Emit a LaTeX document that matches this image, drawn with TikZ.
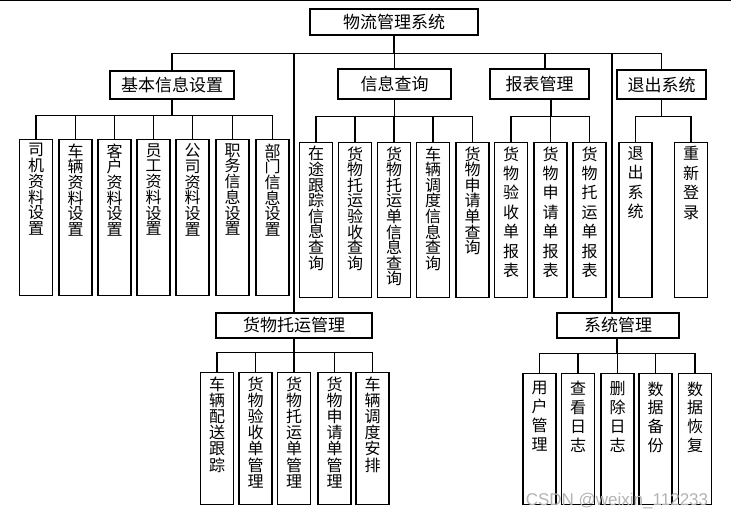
\documentclass[tikz,border=0pt]{standalone}
\usepackage{fontspec}
\newfontfamily\cjk{Noto Sans CJK SC}
\newfontfamily\wmfont{Liberation Sans}
\makeatletter
% one character per line, for the tall boxes
\newcommand{\vchars}[1]{\@tfor\vc@r:=#1\do{\hbox to 1em{\hss\vc@r\hss}}}
\newcommand{\vtext}[3]{\vbox to #1pt{\baselineskip=#2pt\relax\lineskiplimit=-\maxdimen\edef\vt@xt{#3}\expandafter\vchars\expandafter{\vt@xt}\vfil}}
\makeatother
\tikzset{
  topbox/.style={draw, line width=1.1pt, inner sep=0pt, font=\cjk\fontsize{17}{20}\selectfont},
  leafbox/.style={draw, line width=1.1pt, inner xsep=0pt, inner ysep=4pt, minimum width=33pt, anchor=north, font=\cjk\fontsize{16}{16}\selectfont},
  link/.style={line width=1.1pt}
}

\begin{document}
\begin{tikzpicture}[x=1pt, y=-1pt]
    \useasboundingbox (0,0) rectangle (731,521);
    % Frame edge
    \draw[line width=1.2pt] (0,0.6) -- (731,0.6);
    % Root
    \node[topbox, minimum width=168pt, minimum height=26pt] (root) at (394,22) {物流管理系统};
    % Modules
    \node[topbox, minimum width=124pt, minimum height=28pt] (jiben) at (172,85) {基本信息设置};
    \node[topbox, minimum width=113pt, minimum height=30pt] (chaxun) at (394.5,84) {信息查询};
    \node[topbox, minimum width=99pt, minimum height=30pt] (baobiao) at (539.5,84) {报表管理};
    \node[topbox, minimum width=89pt, minimum height=29pt] (tuichu) at (661.5,84.5) {退出系统};
    \node[topbox, minimum width=156pt, minimum height=25pt] (tuoyun) at (294,325.5) {货物托运管理};
    \node[topbox, minimum width=122pt, minimum height=25pt] (xitong) at (618,325.5) {系统管理};
    % Root links
    \draw[link] (root.south) -- ++(0,18) coordinate (rootbus);
    \foreach \m in {jiben, chaxun, tuichu, tuoyun} {\draw[link] (rootbus) -| (\m.north);}
    \draw[link] (rootbus) -| ([xshift=5.5pt]baobiao.north);
    \draw[link] (rootbus) -| ([xshift=-6pt]xitong.north);
    % Basic settings
    \foreach \x/\lbl [count=\i] in {36/司机资料设置, 75.5/车辆资料设置, 114.5/客户资料设置, 153.5/员工资料设置, 192.5/公司资料设置, 232.5/职务信息设置, 272.5/部门信息设置}
        {\node[leafbox] (jb\i) at (\x,139) {\vtext{148}{15.7}{\lbl}};}
    \draw[link] (jiben.south) -- ++(0,16) coordinate (jbbus);
    \foreach \i in {1,...,7} {\draw[link] (jbbus) -| (jb\i.north);}
    % Queries
    \foreach \x/\lbl [count=\i] in {316/在途跟踪信息查询, 355/货物托运验收查询, 394/货物托运单信息查询, 433/车辆调度信息查询, 472.5/货物申请单查询}
        {\node[leafbox] (cx\i) at (\x,142) {\vtext{147}{15.6}{\lbl}};}
    \draw[link] (chaxun.south) -- ++(0,17) coordinate (cxbus);
    \foreach \i in {1,...,5} {\draw[link] (cxbus) -| (cx\i.north);}
    % Reports
    \foreach \x/\lbl [count=\i] in {511/货物验收单报表, 550.5/货物申请单报表, 589.5/货物托运单报表}
        {\node[leafbox] (bb\i) at (\x,142) {\vtext{147}{19.4}{\lbl}};}
    \draw[link] ([xshift=11.5pt]baobiao.south) -- ++(0,17) coordinate (bbbus);
    \foreach \i in {1,...,3} {\draw[link] (bbbus) -| (bb\i.north);}
    % Exit
    \foreach \x/\lbl [count=\i] in {635.5/退出系统, 691/重新登录}
        {\node[leafbox] (tc\i) at (\x,142) {\vtext{147}{19.4}{\lbl}};}
    \draw[link] (tuichu.south) -- ++(0,17) coordinate (tcbus);
    \foreach \i in {1,2} {\draw[link] (tcbus) -| (tc\i.north);}
    % Consignment
    \foreach \x/\lbl [count=\i] in {217/车辆配送跟踪, 255.5/货物验收单管理, 294/货物托运单管理, 334.5/货物申请单管理, 372.5/车辆调度安排}
        {\node[leafbox] (ty\i) at (\x,372) {\vtext{124}{16.2}{\lbl}};}
    \draw[link] (tuoyun.south) -- ++(0,14) coordinate (tybus);
    \foreach \i in {1,...,5} {\draw[link] (tybus) -| (ty\i.north);}
    % System
    \foreach \x/\lbl [count=\i] in {539.5/用户管理, 578/查看日志, 617.5/删除日志, 655.5/数据备份, 695/数据恢复}
        {\node[leafbox, inner ysep=8pt] (xt\i) at (\x,373) {\vtext{115}{18.9}{\lbl}};}
    \draw[link] ([xshift=-1pt]xitong.south) -- ++(0,15) coordinate (xtbus);
    \foreach \i in {1,...,5} {\draw[link] (xtbus) -| (xt\i.north);}
    % Watermark
    \node[font=\wmfont\fontsize{17}{17}\selectfont, text=gray!60] (mark) at (617,501) {CSDN @weixin\_112233};
\end{tikzpicture}
\end{document}
